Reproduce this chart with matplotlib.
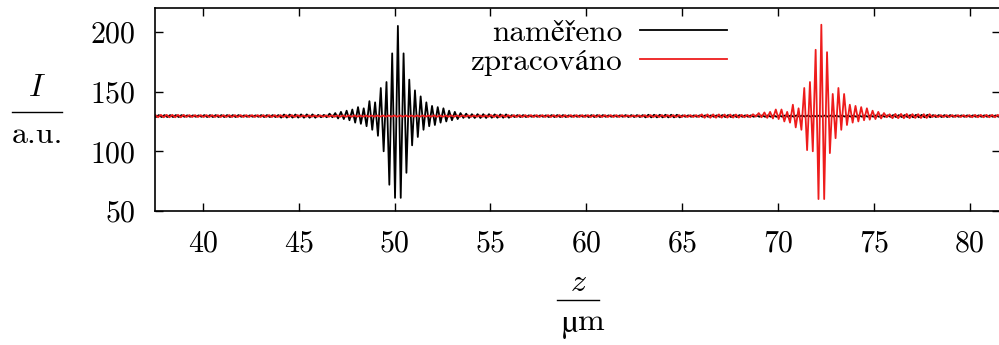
import matplotlib
matplotlib.use('Agg')
import matplotlib.pyplot as plt
from matplotlib.lines import Line2D

plt.rcParams['font.family'] = ['cmr10', 'STIXGeneral', 'DejaVu Serif']
plt.rcParams['mathtext.fontset'] = 'cm'
plt.rcParams['axes.formatter.use_mathtext'] = True

W, H = 999, 345
baseline = 129.5
period = 0.297  # fringe period in um

# fringe packets: extrema, max/min alternating, centre max in the middle
black_center = 50.17
black_extrema = [131.5, 128.5, 132, 127.5, 133, 127, 134, 126, 135, 124, 137, 123,
                 136, 121, 142, 118, 141, 113, 153, 100, 158, 72, 182, 61,
                 205,
                 61, 182, 82, 160, 105, 151, 112, 146, 118, 141, 121, 138,
                 122, 137, 124, 136, 125, 134, 126, 133, 127, 132, 128, 131.5]
red_center = 72.26
red_extrema = [131, 129, 132, 128.5, 132.5, 128, 133, 127.5, 135, 127, 135, 125,
               133, 124, 139, 120, 136, 118, 153, 101, 158, 100, 185, 60,
               206,
               60, 183, 98.5, 148, 111, 153, 118, 148, 122, 139, 124, 138,
               125, 137, 126, 136, 126.5, 134, 127, 133, 127.5, 132, 128.5, 131]

# background ripple amplitude in each 1 um block, z = 37 ... 81
bg_start = 37
black_ripple = [0.8, 0.8, 0.6, 0.8, 0.8, 0.6, 0.8, 1.3, 1.4, 1.0, 1.3, 1.3, 1.3, 1.3, 1.3,
                1.3, 1.6, 1.6, 1.4, 0.8, 0.6, 0.8, 0.6, 0.8, 0.6, 0.8, 1.1, 1.1, 0.6, 0.6,
                0.8, 0.6, 0.6, 0.5, 0.4, 0.4, 0.4, 0.5, 0.6, 0.8, 1.0, 0.8, 0.6, 0.6, 0.6]
red_ripple = [1.0, 1.0, 0.8, 0.8, 0.8, 0.8, 0.8, 0.8, 0.6, 0.6, 0.6, 0.5, 0.5, 0.5, 0.5,
              0.6, 0.6, 0.6, 0.8, 0.8, 0.8, 0.8, 0.8, 0.8, 0.8, 0.6, 0.8, 0.8, 0.8, 1.4,
              1.3, 1.0, 1.0, 1.3, 1.3, 1.3, 1.3, 1.3, 1.8, 1.8, 1.6, 0.8, 0.8, 1.0, 1.0]

x_ticks = [40, 45, 50, 55, 60, 65, 70, 75, 80]
y_ticks = [50, 100, 150, 200]
labels = ['naměřeno', 'zpracováno']


def trace(center, extrema, ripple):
    half = period / 2
    n = len(extrema) // 2
    i_lo = int((37.3 - center) / half) - 1
    i_hi = int((81.8 - center) / half) + 1
    z, I = [], []
    for i in range(i_lo, i_hi + 1):
        zi = center + i * half
        if abs(i) <= n:
            v = extrema[i + n]
        else:
            amp = ripple[min(max(int(zi) - bg_start, 0), len(ripple) - 1)]
            v = baseline + amp if i % 2 == 0 else baseline - amp
        z.append(zi)
        I.append(v)
    return z, I


fig = plt.figure(figsize=(W / 100, H / 100), dpi=100)
ax = fig.add_axes([155 / W, 1 - 211 / H, 1.001 - 155 / W, (211 - 8) / H])

zb, Ib = trace(black_center, black_extrema, black_ripple)
zr, Ir = trace(red_center, red_extrema, red_ripple)
lb, = ax.plot(zb, Ib, color='black', lw=1.3, label=labels[0])
lr, = ax.plot(zr, Ir, color='#ee1c1c', lw=1.3, label=labels[1])

ax.set_xlim(37.5, 81.58)
ax.set_ylim(50, 220)
ax.set_xticks(x_ticks)
ax.set_yticks(y_ticks)
ax.tick_params(direction='in', length=6, width=1, labelsize=21.5,
               top=True, right=True, pad=14)
for s in ax.spines.values():
    s.set_linewidth(1.2)

leg = ax.legend(handles=[lb, lr], loc='upper right', markerfirst=False, frameon=False,
                fontsize=22.5, handlelength=2.78, handletextpad=0.58, labelspacing=0.04,
                borderpad=0, borderaxespad=0,
                bbox_to_anchor=(727 / W, 1 - 19 / H), bbox_transform=fig.transFigure)
for line in leg.get_lines():
    line.set_linewidth(1.3)

# axis labels as fractions, like the original
fig.text(37 / W, 1 - 88 / H, '$I$', fontsize=23, ha='center', va='center')
fig.text(37 / W, 1 - 135 / H, 'a.u.', fontsize=23, ha='center', va='center')
fig.add_artist(Line2D([12 / W, 62 / W], [1 - 112 / H, 1 - 112 / H], color='black', lw=1))

fig.text(578 / W, 1 - 283 / H, '$z$', fontsize=23, ha='center', va='center')
fig.text(578 / W, 1 - 324 / H, 'µ', fontsize=23, ha='right', va='center',
         family='STIXGeneral')
fig.text(578 / W, 1 - 322 / H, 'm', fontsize=23, ha='left', va='center')
fig.add_artist(Line2D([557 / W, 599 / W], [1 - 300 / H, 1 - 300 / H], color='black', lw=1))

fig.savefig('out.png', dpi=100)
